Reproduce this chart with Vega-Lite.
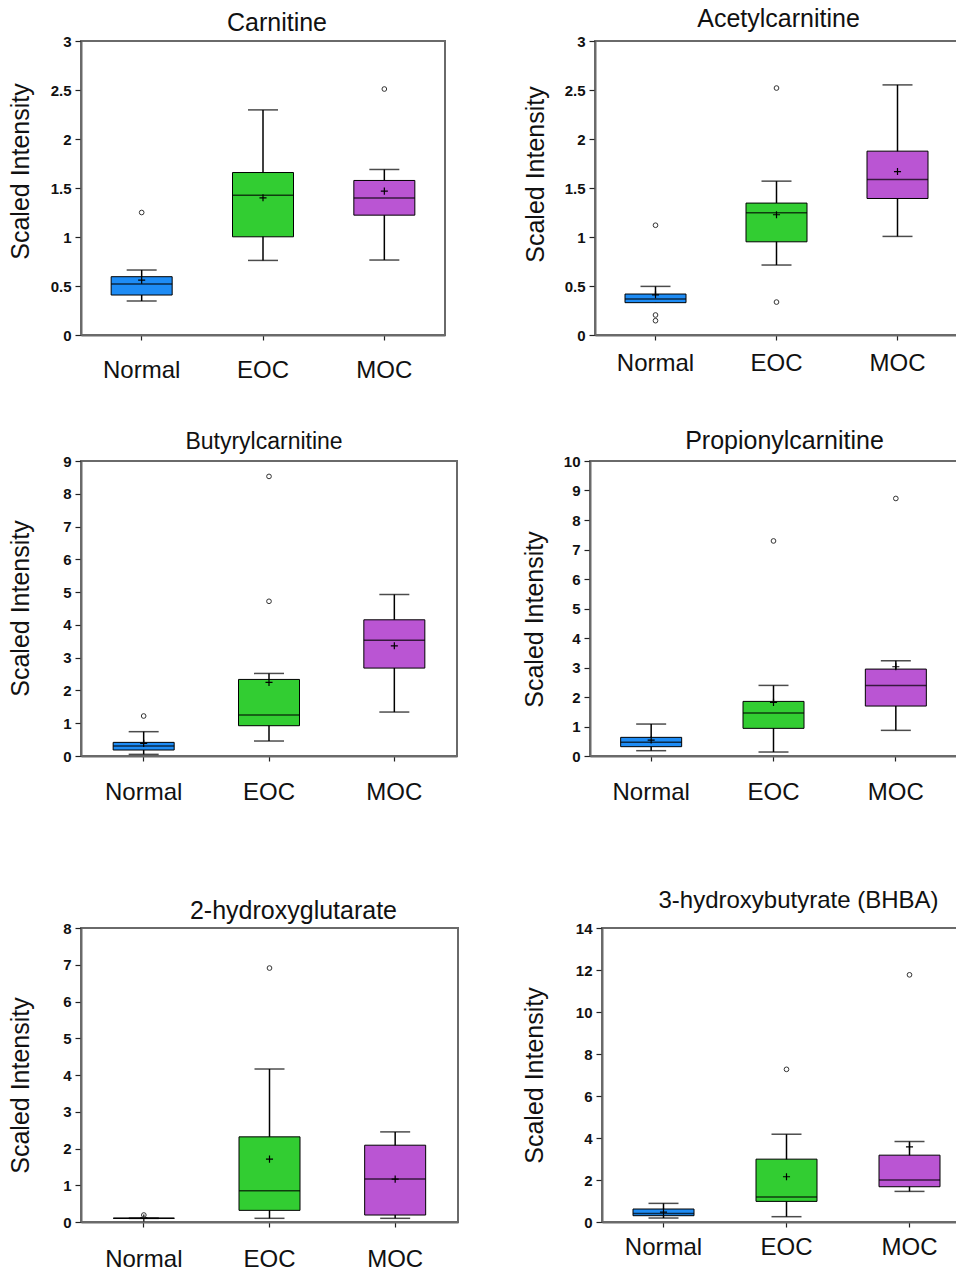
{
"$schema": "https://vega.github.io/schema/vega-lite/v6.json",
"padding": {"left": 6, "top": 6, "right": 0, "bottom": 0},
"datasets": {
"stats": [
{"panel":"Carnitine","group":"Normal","lower":0.347,"q1":0.408,"median":0.52,"q3":0.595,"upper":0.663,"mean":0.56},
{"panel":"Carnitine","group":"EOC","lower":0.761,"q1":1.002,"median":1.427,"q3":1.658,"upper":2.297,"mean":1.40},
{"panel":"Carnitine","group":"MOC","lower":0.765,"q1":1.223,"median":1.397,"q3":1.577,"upper":1.689,"mean":1.468},
{"panel":"Acetylcarnitine","group":"Normal","lower":0.33,"q1":0.33,"median":0.367,"q3":0.418,"upper":0.496,"mean":0.41},
{"panel":"Acetylcarnitine","group":"EOC","lower":0.714,"q1":0.951,"median":1.247,"q3":1.346,"upper":1.57,"mean":1.227},
{"panel":"Acetylcarnitine","group":"MOC","lower":1.006,"q1":1.393,"median":1.587,"q3":1.876,"upper":2.552,"mean":1.668},
{"panel":"Butyrylcarnitine","group":"Normal","lower":0.05,"q1":0.183,"median":0.305,"q3":0.416,"upper":0.742,"mean":0.386},
{"panel":"Butyrylcarnitine","group":"EOC","lower":0.457,"q1":0.924,"median":1.249,"q3":2.336,"upper":2.519,"mean":2.245},
{"panel":"Butyrylcarnitine","group":"MOC","lower":1.341,"q1":2.682,"median":3.535,"q3":4.155,"upper":4.927,"mean":3.362},
{"panel":"Propionylcarnitine","group":"Normal","lower":0.18,"q1":0.316,"median":0.463,"q3":0.632,"upper":1.083,"mean":0.54},
{"panel":"Propionylcarnitine","group":"EOC","lower":0.135,"q1":0.937,"median":1.456,"q3":1.851,"upper":2.393,"mean":1.817},
{"panel":"Propionylcarnitine","group":"MOC","lower":0.869,"q1":1.693,"median":2.393,"q3":2.946,"upper":3.228,"mean":3.025},
{"panel":"2-hydroxyglutarate","group":"Normal","lower":0.1,"q1":0.1,"median":0.1,"q3":0.1,"upper":0.1,"mean":0.11},
{"panel":"2-hydroxyglutarate","group":"EOC","lower":0.1,"q1":0.317,"median":0.851,"q3":2.317,"upper":4.163,"mean":1.71},
{"panel":"2-hydroxyglutarate","group":"MOC","lower":0.1,"q1":0.19,"median":1.167,"q3":2.09,"upper":2.452,"mean":1.167},
{"panel":"BHBA","group":"Normal","lower":0.19,"q1":0.30,"median":0.41,"q3":0.618,"upper":0.887,"mean":0.475},
{"panel":"BHBA","group":"EOC","lower":0.253,"q1":0.982,"median":1.188,"q3":2.993,"upper":4.18,"mean":2.154},
{"panel":"BHBA","group":"MOC","lower":1.457,"q1":1.679,"median":1.996,"q3":3.183,"upper":3.833,"mean":3.58}
],
"outliers": [
{"panel":"Carnitine","group":"Normal","value":1.25},
{"panel":"Carnitine","group":"MOC","value":2.51},
{"panel":"Acetylcarnitine","group":"Normal","value":1.12},
{"panel":"Acetylcarnitine","group":"Normal","value":0.204},
{"panel":"Acetylcarnitine","group":"Normal","value":0.146},
{"panel":"Acetylcarnitine","group":"EOC","value":2.52},
{"panel":"Acetylcarnitine","group":"EOC","value":0.336},
{"panel":"Butyrylcarnitine","group":"Normal","value":1.22},
{"panel":"Butyrylcarnitine","group":"EOC","value":8.53},
{"panel":"Butyrylcarnitine","group":"EOC","value":4.72},
{"panel":"Propionylcarnitine","group":"EOC","value":7.29},
{"panel":"Propionylcarnitine","group":"MOC","value":8.73},
{"panel":"2-hydroxyglutarate","group":"Normal","value":0.19},
{"panel":"2-hydroxyglutarate","group":"EOC","value":6.91},
{"panel":"BHBA","group":"EOC","value":7.27},
{"panel":"BHBA","group":"MOC","value":11.77}
]
},
"config": {
"font": "Liberation Sans",
"view": {"stroke": "#6a6a6a", "strokeWidth": 2},
"axis": {"domainColor": "#6a6a6a", "domainWidth": 2, "tickColor": "#222", "tickWidth": 1.2, "labelColor": "#111", "titleColor": "#111", "grid": false, "titleFontWeight": "normal", "labelOverlap": false},
"axisX": {"labelFontSize": 24, "labelAngle": 0, "tickSize": 5},
"axisY": {"labelFontSize": 15, "labelFontWeight": "bold", "tickSize": 6, "labelPadding": 4, "titleFontSize": 25, "labelOverlap": false},
"title": {"fontSize": 25, "fontWeight": "normal", "color": "#111", "baseline": "alphabetic", "anchor": "middle"}
},
"spacing": 83,
"vconcat": [
{"spacing": 45, "vconcat": [
{"bounds": "flush", "spacing": 150, "hconcat": [
{"width": 364, "height": 294, "title": {"text": "Carnitine", "offset": 0, "dy": 2, "dx": 14},
"layer": [
{"data": {"name": "stats"}, "transform": [{"filter": "datum.panel === 'Carnitine'"}], "mark": {"type": "rule", "color": "black", "strokeWidth": 1.5},
"encoding": {"x": {"field": "group", "type": "nominal", "title": null, "sort": ["Normal","EOC","MOC"], "scale": {"type": "band", "domain": ["Normal","EOC","MOC"], "paddingInner": 0, "paddingOuter": 0}, "axis": {"labelPadding": 18}},
"y": {"field": "lower", "type": "quantitative", "title": "Scaled Intensity", "scale": {"domain": [0, 3], "nice": false}, "axis": {"values": [0,0.5,1,1.5,2,2.5,3], "tickCount": 7, "format": "~f", "titleX": -48, "titleY": 130}},
"y2": {"field": "upper"}}},
{"data": {"name": "stats"}, "transform": [{"filter": "datum.panel === 'Carnitine'"}], "mark": {"type": "tick", "color": "black", "size": 30, "thickness": 1.5},
"encoding": {"x": {"field": "group", "type": "nominal", "title": null, "sort": ["Normal","EOC","MOC"]}, "y": {"field": "lower", "type": "quantitative", "title": "Scaled Intensity"}}},
{"data": {"name": "stats"}, "transform": [{"filter": "datum.panel === 'Carnitine'"}], "mark": {"type": "tick", "color": "black", "size": 30, "thickness": 1.5},
"encoding": {"x": {"field": "group", "type": "nominal", "title": null, "sort": ["Normal","EOC","MOC"]}, "y": {"field": "upper", "type": "quantitative", "title": "Scaled Intensity"}}},
{"data": {"name": "stats"}, "transform": [{"filter": "datum.panel === 'Carnitine'"}], "mark": {"type": "bar", "size": 61, "stroke": "black", "strokeWidth": 1},
"encoding": {"x": {"field": "group", "type": "nominal", "title": null, "sort": ["Normal","EOC","MOC"]}, "y": {"field": "q1", "type": "quantitative", "title": "Scaled Intensity"}, "y2": {"field": "q3"},
"color": {"field": "group", "type": "nominal", "scale": {"domain": ["Normal","EOC","MOC"], "range": ["#1E8CF5","#32CD32","#BA55D3"]}, "legend": null}}},
{"data": {"name": "stats"}, "transform": [{"filter": "datum.panel === 'Carnitine'"}], "mark": {"type": "tick", "color": "black", "size": 61, "thickness": 1.5},
"encoding": {"x": {"field": "group", "type": "nominal", "title": null, "sort": ["Normal","EOC","MOC"]}, "y": {"field": "median", "type": "quantitative", "title": "Scaled Intensity"}}},
{"data": {"name": "stats"}, "transform": [{"filter": "datum.panel === 'Carnitine'"}], "mark": {"type": "point", "shape": "M-1,0L1,0M0,-1L0,1", "filled": false, "stroke": "black", "strokeWidth": 1.2, "size": 50, "opacity": 1},
"encoding": {"x": {"field": "group", "type": "nominal", "title": null, "sort": ["Normal","EOC","MOC"]}, "y": {"field": "mean", "type": "quantitative", "title": "Scaled Intensity"}}},
{"data": {"name": "outliers"}, "transform": [{"filter": "datum.panel === 'Carnitine'"}], "mark": {"type": "point", "shape": "circle", "filled": false, "stroke": "#333", "strokeWidth": 1, "size": 22, "opacity": 1},
"encoding": {"x": {"field": "group", "type": "nominal", "title": null, "sort": ["Normal","EOC","MOC"]}, "y": {"field": "value", "type": "quantitative", "title": "Scaled Intensity"}}}
]},
{"width": 363, "height": 294, "title": {"text": "Acetylcarnitine", "offset": 2, "dx": 2},
"layer": [
{"data": {"name": "stats"}, "transform": [{"filter": "datum.panel === 'Acetylcarnitine'"}], "mark": {"type": "rule", "color": "black", "strokeWidth": 1.5},
"encoding": {"x": {"field": "group", "type": "nominal", "title": null, "sort": ["Normal","EOC","MOC"], "scale": {"type": "band", "domain": ["Normal","EOC","MOC"], "paddingInner": 0, "paddingOuter": 0}, "axis": {"labelPadding": 11}},
"y": {"field": "lower", "type": "quantitative", "title": "Scaled Intensity", "scale": {"domain": [0, 3], "nice": false}, "axis": {"values": [0,0.5,1,1.5,2,2.5,3], "tickCount": 7, "format": "~f", "titleX": -47, "titleY": 133}},
"y2": {"field": "upper"}}},
{"data": {"name": "stats"}, "transform": [{"filter": "datum.panel === 'Acetylcarnitine' && datum.lower < datum.q1"}], "mark": {"type": "tick", "color": "black", "size": 30, "thickness": 1.5},
"encoding": {"x": {"field": "group", "type": "nominal", "title": null, "sort": ["Normal","EOC","MOC"]}, "y": {"field": "lower", "type": "quantitative", "title": "Scaled Intensity"}}},
{"data": {"name": "stats"}, "transform": [{"filter": "datum.panel === 'Acetylcarnitine'"}], "mark": {"type": "tick", "color": "black", "size": 30, "thickness": 1.5},
"encoding": {"x": {"field": "group", "type": "nominal", "title": null, "sort": ["Normal","EOC","MOC"]}, "y": {"field": "upper", "type": "quantitative", "title": "Scaled Intensity"}}},
{"data": {"name": "stats"}, "transform": [{"filter": "datum.panel === 'Acetylcarnitine'"}], "mark": {"type": "bar", "size": 61, "stroke": "black", "strokeWidth": 1},
"encoding": {"x": {"field": "group", "type": "nominal", "title": null, "sort": ["Normal","EOC","MOC"]}, "y": {"field": "q1", "type": "quantitative", "title": "Scaled Intensity"}, "y2": {"field": "q3"},
"color": {"field": "group", "type": "nominal", "scale": {"domain": ["Normal","EOC","MOC"], "range": ["#1E8CF5","#32CD32","#BA55D3"]}, "legend": null}}},
{"data": {"name": "stats"}, "transform": [{"filter": "datum.panel === 'Acetylcarnitine'"}], "mark": {"type": "tick", "color": "black", "size": 61, "thickness": 1.5},
"encoding": {"x": {"field": "group", "type": "nominal", "title": null, "sort": ["Normal","EOC","MOC"]}, "y": {"field": "median", "type": "quantitative", "title": "Scaled Intensity"}}},
{"data": {"name": "stats"}, "transform": [{"filter": "datum.panel === 'Acetylcarnitine'"}], "mark": {"type": "point", "shape": "M-1,0L1,0M0,-1L0,1", "filled": false, "stroke": "black", "strokeWidth": 1.2, "size": 50, "opacity": 1},
"encoding": {"x": {"field": "group", "type": "nominal", "title": null, "sort": ["Normal","EOC","MOC"]}, "y": {"field": "mean", "type": "quantitative", "title": "Scaled Intensity"}}},
{"data": {"name": "outliers"}, "transform": [{"filter": "datum.panel === 'Acetylcarnitine'"}], "mark": {"type": "point", "shape": "circle", "filled": false, "stroke": "#333", "strokeWidth": 1, "size": 22, "opacity": 1},
"encoding": {"x": {"field": "group", "type": "nominal", "title": null, "sort": ["Normal","EOC","MOC"]}, "y": {"field": "value", "type": "quantitative", "title": "Scaled Intensity"}}}
]}
]},
{"bounds": "flush", "spacing": 133, "hconcat": [
{"width": 376, "height": 295, "title": {"text": "Butyrylcarnitine", "offset": 0, "dx": -5, "fontSize": 23},
"layer": [
{"data": {"name": "stats"}, "transform": [{"filter": "datum.panel === 'Butyrylcarnitine'"}], "mark": {"type": "rule", "color": "black", "strokeWidth": 1.5},
"encoding": {"x": {"field": "group", "type": "nominal", "title": null, "sort": ["Normal","EOC","MOC"], "scale": {"type": "band", "domain": ["Normal","EOC","MOC"], "paddingInner": 0, "paddingOuter": 0}, "axis": {"labelPadding": 19}},
"y": {"field": "lower", "type": "quantitative", "title": "Scaled Intensity", "scale": {"domain": [0, 9], "nice": false}, "axis": {"values": [0,1,2,3,4,5,6,7,8,9], "tickCount": 10, "titleX": -48, "titleY": 147}},
"y2": {"field": "upper"}}},
{"data": {"name": "stats"}, "transform": [{"filter": "datum.panel === 'Butyrylcarnitine'"}], "mark": {"type": "tick", "color": "black", "size": 30, "thickness": 1.5},
"encoding": {"x": {"field": "group", "type": "nominal", "title": null, "sort": ["Normal","EOC","MOC"]}, "y": {"field": "lower", "type": "quantitative", "title": "Scaled Intensity"}}},
{"data": {"name": "stats"}, "transform": [{"filter": "datum.panel === 'Butyrylcarnitine'"}], "mark": {"type": "tick", "color": "black", "size": 30, "thickness": 1.5},
"encoding": {"x": {"field": "group", "type": "nominal", "title": null, "sort": ["Normal","EOC","MOC"]}, "y": {"field": "upper", "type": "quantitative", "title": "Scaled Intensity"}}},
{"data": {"name": "stats"}, "transform": [{"filter": "datum.panel === 'Butyrylcarnitine'"}], "mark": {"type": "bar", "size": 61, "stroke": "black", "strokeWidth": 1},
"encoding": {"x": {"field": "group", "type": "nominal", "title": null, "sort": ["Normal","EOC","MOC"]}, "y": {"field": "q1", "type": "quantitative", "title": "Scaled Intensity"}, "y2": {"field": "q3"},
"color": {"field": "group", "type": "nominal", "scale": {"domain": ["Normal","EOC","MOC"], "range": ["#1E8CF5","#32CD32","#BA55D3"]}, "legend": null}}},
{"data": {"name": "stats"}, "transform": [{"filter": "datum.panel === 'Butyrylcarnitine'"}], "mark": {"type": "tick", "color": "black", "size": 61, "thickness": 1.5},
"encoding": {"x": {"field": "group", "type": "nominal", "title": null, "sort": ["Normal","EOC","MOC"]}, "y": {"field": "median", "type": "quantitative", "title": "Scaled Intensity"}}},
{"data": {"name": "stats"}, "transform": [{"filter": "datum.panel === 'Butyrylcarnitine'"}], "mark": {"type": "point", "shape": "M-1,0L1,0M0,-1L0,1", "filled": false, "stroke": "black", "strokeWidth": 1.2, "size": 50, "opacity": 1},
"encoding": {"x": {"field": "group", "type": "nominal", "title": null, "sort": ["Normal","EOC","MOC"]}, "y": {"field": "mean", "type": "quantitative", "title": "Scaled Intensity"}}},
{"data": {"name": "outliers"}, "transform": [{"filter": "datum.panel === 'Butyrylcarnitine'"}], "mark": {"type": "point", "shape": "circle", "filled": false, "stroke": "#333", "strokeWidth": 1, "size": 22, "opacity": 1},
"encoding": {"x": {"field": "group", "type": "nominal", "title": null, "sort": ["Normal","EOC","MOC"]}, "y": {"field": "value", "type": "quantitative", "title": "Scaled Intensity"}}}
]},
{"width": 367, "height": 295, "title": {"text": "Propionylcarnitine", "offset": 0, "dx": 11},
"layer": [
{"data": {"name": "stats"}, "transform": [{"filter": "datum.panel === 'Propionylcarnitine'"}], "mark": {"type": "rule", "color": "black", "strokeWidth": 1.5},
"encoding": {"x": {"field": "group", "type": "nominal", "title": null, "sort": ["Normal","EOC","MOC"], "scale": {"type": "band", "domain": ["Normal","EOC","MOC"], "paddingInner": 0, "paddingOuter": 0}, "axis": {"labelPadding": 19}},
"y": {"field": "lower", "type": "quantitative", "title": "Scaled Intensity", "scale": {"domain": [0, 10], "nice": false}, "axis": {"values": [0,1,2,3,4,5,6,7,8,9,10], "tickCount": 11, "titleX": -43, "titleY": 158}},
"y2": {"field": "upper"}}},
{"data": {"name": "stats"}, "transform": [{"filter": "datum.panel === 'Propionylcarnitine'"}], "mark": {"type": "tick", "color": "black", "size": 30, "thickness": 1.5},
"encoding": {"x": {"field": "group", "type": "nominal", "title": null, "sort": ["Normal","EOC","MOC"]}, "y": {"field": "lower", "type": "quantitative", "title": "Scaled Intensity"}}},
{"data": {"name": "stats"}, "transform": [{"filter": "datum.panel === 'Propionylcarnitine'"}], "mark": {"type": "tick", "color": "black", "size": 30, "thickness": 1.5},
"encoding": {"x": {"field": "group", "type": "nominal", "title": null, "sort": ["Normal","EOC","MOC"]}, "y": {"field": "upper", "type": "quantitative", "title": "Scaled Intensity"}}},
{"data": {"name": "stats"}, "transform": [{"filter": "datum.panel === 'Propionylcarnitine'"}], "mark": {"type": "bar", "size": 61, "stroke": "black", "strokeWidth": 1},
"encoding": {"x": {"field": "group", "type": "nominal", "title": null, "sort": ["Normal","EOC","MOC"]}, "y": {"field": "q1", "type": "quantitative", "title": "Scaled Intensity"}, "y2": {"field": "q3"},
"color": {"field": "group", "type": "nominal", "scale": {"domain": ["Normal","EOC","MOC"], "range": ["#1E8CF5","#32CD32","#BA55D3"]}, "legend": null}}},
{"data": {"name": "stats"}, "transform": [{"filter": "datum.panel === 'Propionylcarnitine'"}], "mark": {"type": "tick", "color": "black", "size": 61, "thickness": 1.5},
"encoding": {"x": {"field": "group", "type": "nominal", "title": null, "sort": ["Normal","EOC","MOC"]}, "y": {"field": "median", "type": "quantitative", "title": "Scaled Intensity"}}},
{"data": {"name": "stats"}, "transform": [{"filter": "datum.panel === 'Propionylcarnitine'"}], "mark": {"type": "point", "shape": "M-1,0L1,0M0,-1L0,1", "filled": false, "stroke": "black", "strokeWidth": 1.2, "size": 50, "opacity": 1},
"encoding": {"x": {"field": "group", "type": "nominal", "title": null, "sort": ["Normal","EOC","MOC"]}, "y": {"field": "mean", "type": "quantitative", "title": "Scaled Intensity"}}},
{"data": {"name": "outliers"}, "transform": [{"filter": "datum.panel === 'Propionylcarnitine'"}], "mark": {"type": "point", "shape": "circle", "filled": false, "stroke": "#333", "strokeWidth": 1, "size": 22, "opacity": 1},
"encoding": {"x": {"field": "group", "type": "nominal", "title": null, "sort": ["Normal","EOC","MOC"]}, "y": {"field": "value", "type": "quantitative", "title": "Scaled Intensity"}}}
]}
]}
]},
{"bounds": "flush", "spacing": 144, "hconcat": [
{"width": 377, "height": 294, "title": {"text": "2-hydroxyglutarate", "offset": 0, "dy": 3, "dx": 24},
"layer": [
{"data": {"name": "stats"}, "transform": [{"filter": "datum.panel === '2-hydroxyglutarate'"}], "mark": {"type": "rule", "color": "black", "strokeWidth": 1.5},
"encoding": {"x": {"field": "group", "type": "nominal", "title": null, "sort": ["Normal","EOC","MOC"], "scale": {"type": "band", "domain": ["Normal","EOC","MOC"], "paddingInner": 0, "paddingOuter": 0}, "axis": {"labelPadding": 20}},
"y": {"field": "lower", "type": "quantitative", "title": "Scaled Intensity", "scale": {"domain": [0, 8], "nice": false}, "axis": {"values": [0,1,2,3,4,5,6,7,8], "tickCount": 9, "titleX": -48, "titleY": 157}},
"y2": {"field": "upper"}}},
{"data": {"name": "stats"}, "transform": [{"filter": "datum.panel === '2-hydroxyglutarate'"}], "mark": {"type": "tick", "color": "black", "size": 30, "thickness": 1.5},
"encoding": {"x": {"field": "group", "type": "nominal", "title": null, "sort": ["Normal","EOC","MOC"]}, "y": {"field": "lower", "type": "quantitative", "title": "Scaled Intensity"}}},
{"data": {"name": "stats"}, "transform": [{"filter": "datum.panel === '2-hydroxyglutarate'"}], "mark": {"type": "tick", "color": "black", "size": 30, "thickness": 1.5},
"encoding": {"x": {"field": "group", "type": "nominal", "title": null, "sort": ["Normal","EOC","MOC"]}, "y": {"field": "upper", "type": "quantitative", "title": "Scaled Intensity"}}},
{"data": {"name": "stats"}, "transform": [{"filter": "datum.panel === '2-hydroxyglutarate'"}], "mark": {"type": "bar", "size": 61, "stroke": "black", "strokeWidth": 1},
"encoding": {"x": {"field": "group", "type": "nominal", "title": null, "sort": ["Normal","EOC","MOC"]}, "y": {"field": "q1", "type": "quantitative", "title": "Scaled Intensity"}, "y2": {"field": "q3"},
"color": {"field": "group", "type": "nominal", "scale": {"domain": ["Normal","EOC","MOC"], "range": ["#1E8CF5","#32CD32","#BA55D3"]}, "legend": null}}},
{"data": {"name": "stats"}, "transform": [{"filter": "datum.panel === '2-hydroxyglutarate'"}], "mark": {"type": "tick", "color": "black", "size": 61, "thickness": 1.5},
"encoding": {"x": {"field": "group", "type": "nominal", "title": null, "sort": ["Normal","EOC","MOC"]}, "y": {"field": "median", "type": "quantitative", "title": "Scaled Intensity"}}},
{"data": {"name": "stats"}, "transform": [{"filter": "datum.panel === '2-hydroxyglutarate'"}], "mark": {"type": "point", "shape": "M-1,0L1,0M0,-1L0,1", "filled": false, "stroke": "black", "strokeWidth": 1.2, "size": 50, "opacity": 1},
"encoding": {"x": {"field": "group", "type": "nominal", "title": null, "sort": ["Normal","EOC","MOC"]}, "y": {"field": "mean", "type": "quantitative", "title": "Scaled Intensity"}}},
{"data": {"name": "outliers"}, "transform": [{"filter": "datum.panel === '2-hydroxyglutarate'"}], "mark": {"type": "point", "shape": "circle", "filled": false, "stroke": "#333", "strokeWidth": 1, "size": 22, "opacity": 1},
"encoding": {"x": {"field": "group", "type": "nominal", "title": null, "sort": ["Normal","EOC","MOC"]}, "y": {"field": "value", "type": "quantitative", "title": "Scaled Intensity"}}}
]},
{"width": 369, "height": 294, "title": {"text": "3-hydroxybutyrate (BHBA)", "offset": 8, "dx": 12, "fontSize": 24},
"layer": [
{"data": {"name": "stats"}, "transform": [{"filter": "datum.panel === 'BHBA'"}], "mark": {"type": "rule", "color": "black", "strokeWidth": 1.5},
"encoding": {"x": {"field": "group", "type": "nominal", "title": null, "sort": ["Normal","EOC","MOC"], "scale": {"type": "band", "domain": ["Normal","EOC","MOC"], "paddingInner": 0, "paddingOuter": 0}, "axis": {"labelPadding": 8}},
"y": {"field": "lower", "type": "quantitative", "title": "Scaled Intensity", "scale": {"domain": [0, 14], "nice": false}, "axis": {"values": [0,2,4,6,8,10,12,14], "tickCount": 8, "titleX": -55, "titleY": 147}},
"y2": {"field": "upper"}}},
{"data": {"name": "stats"}, "transform": [{"filter": "datum.panel === 'BHBA'"}], "mark": {"type": "tick", "color": "black", "size": 30, "thickness": 1.5},
"encoding": {"x": {"field": "group", "type": "nominal", "title": null, "sort": ["Normal","EOC","MOC"]}, "y": {"field": "lower", "type": "quantitative", "title": "Scaled Intensity"}}},
{"data": {"name": "stats"}, "transform": [{"filter": "datum.panel === 'BHBA'"}], "mark": {"type": "tick", "color": "black", "size": 30, "thickness": 1.5},
"encoding": {"x": {"field": "group", "type": "nominal", "title": null, "sort": ["Normal","EOC","MOC"]}, "y": {"field": "upper", "type": "quantitative", "title": "Scaled Intensity"}}},
{"data": {"name": "stats"}, "transform": [{"filter": "datum.panel === 'BHBA'"}], "mark": {"type": "bar", "size": 61, "stroke": "black", "strokeWidth": 1},
"encoding": {"x": {"field": "group", "type": "nominal", "title": null, "sort": ["Normal","EOC","MOC"]}, "y": {"field": "q1", "type": "quantitative", "title": "Scaled Intensity"}, "y2": {"field": "q3"},
"color": {"field": "group", "type": "nominal", "scale": {"domain": ["Normal","EOC","MOC"], "range": ["#1E8CF5","#32CD32","#BA55D3"]}, "legend": null}}},
{"data": {"name": "stats"}, "transform": [{"filter": "datum.panel === 'BHBA'"}], "mark": {"type": "tick", "color": "black", "size": 61, "thickness": 1.5},
"encoding": {"x": {"field": "group", "type": "nominal", "title": null, "sort": ["Normal","EOC","MOC"]}, "y": {"field": "median", "type": "quantitative", "title": "Scaled Intensity"}}},
{"data": {"name": "stats"}, "transform": [{"filter": "datum.panel === 'BHBA'"}], "mark": {"type": "point", "shape": "M-1,0L1,0M0,-1L0,1", "filled": false, "stroke": "black", "strokeWidth": 1.2, "size": 50, "opacity": 1},
"encoding": {"x": {"field": "group", "type": "nominal", "title": null, "sort": ["Normal","EOC","MOC"]}, "y": {"field": "mean", "type": "quantitative", "title": "Scaled Intensity"}}},
{"data": {"name": "outliers"}, "transform": [{"filter": "datum.panel === 'BHBA'"}], "mark": {"type": "point", "shape": "circle", "filled": false, "stroke": "#333", "strokeWidth": 1, "size": 22, "opacity": 1},
"encoding": {"x": {"field": "group", "type": "nominal", "title": null, "sort": ["Normal","EOC","MOC"]}, "y": {"field": "value", "type": "quantitative", "title": "Scaled Intensity"}}}
]}
]}
]
}
